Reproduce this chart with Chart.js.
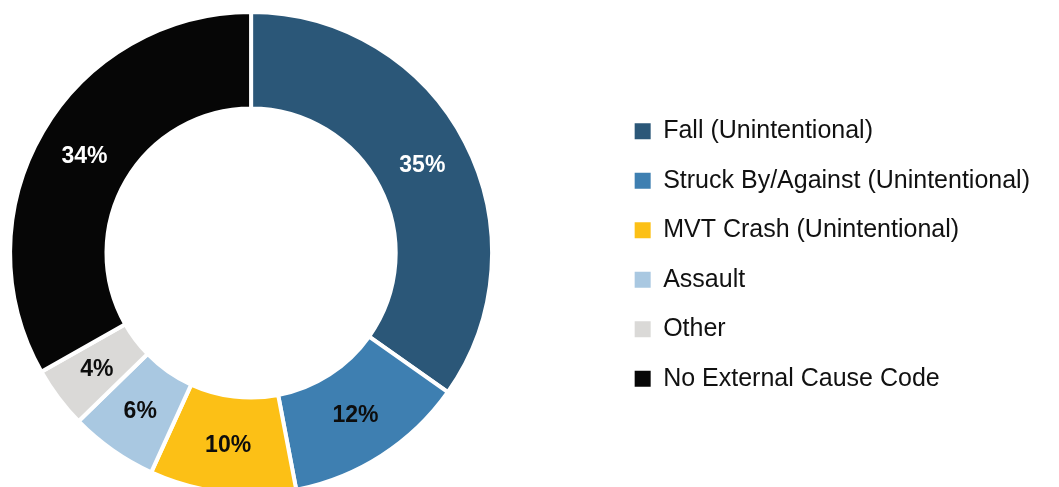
<!DOCTYPE html>
<html>
<head>
<meta charset="utf-8">
<script src="https://cdn.jsdelivr.net/npm/chart.js@4/dist/chart.umd.min.js"></script>
<style>
  html, body { margin: 0; padding: 0; background: #fff; overflow: hidden; }
  /* canvas is wider than the window and shifted left so the ring sits where the original has it */
  #wrap { position: absolute; left: -108px; top: 0; width: 1167px; height: 487px; }
</style>
</head>
<body>
<div id="wrap"><canvas id="causeChart"></canvas></div>
<script>
const causes = [
  'Fall (Unintentional)',
  'Struck By/Against (Unintentional)',
  'MVT Crash (Unintentional)',
  'Assault',
  'Other',
  'No External Cause Code'
];
const shares = [34.8, 12.2, 9.8, 5.9, 4.1, 33.2];
const shareLabels = ['35%', '12%', '10%', '6%', '4%', '34%'];
const sliceColors = ['#2B5778', '#3E7FB1', '#FCC016', '#A9C8E1', '#DAD9D7', '#060606'];
const labelColors = ['#ffffff', '#0d0d0d', '#0d0d0d', '#0d0d0d', '#0d0d0d', '#ffffff'];

const FONT = '"Liberation Sans", Arial, sans-serif';

// percent text in the middle of each ring segment
const sliceLabels = {
  id: 'sliceLabels',
  afterDatasetsDraw(chart) {
    const ctx = chart.ctx;
    const arcs = chart.getDatasetMeta(0).data;
    ctx.save();
    ctx.font = 'bold 23px ' + FONT;
    ctx.textAlign = 'center';
    ctx.textBaseline = 'middle';
    arcs.forEach((arc, i) => {
      const p = arc.getCenterPoint();
      ctx.fillStyle = labelColors[i];
      ctx.fillText(shareLabels[i], p.x, p.y + 1);
    });
    ctx.restore();
  }
};

const baseLegendLabels = Chart.overrides.doughnut.plugins.legend.labels.generateLabels;

new Chart(document.getElementById('causeChart'), {
  type: 'doughnut',
  data: {
    labels: causes,
    datasets: [{
      data: shares,
      backgroundColor: sliceColors,
      borderColor: '#ffffff',
      borderWidth: 4
    }]
  },
  options: {
    responsive: true,
    maintainAspectRatio: false,
    animation: false,
    events: [],
    radius: 241,
    cutout: '60%',
    layout: { padding: { left: 0, right: 19, top: 19, bottom: 0 } },
    plugins: {
      tooltip: { enabled: false },
      legend: {
        position: 'right',
        align: 'center',
        title: { display: true, text: '', font: { size: 1 }, padding: { top: 3, bottom: 0 } },
        labels: {
          boxWidth: 16,
          boxHeight: 16,
          padding: 24.5,
          color: '#111111',
          font: { family: FONT, size: 25 },
          generateLabels: (chart) => baseLegendLabels(chart).map(l => ({ ...l, lineWidth: 0 }))
        }
      }
    }
  },
  plugins: [sliceLabels]
});
</script>
</body>
</html>
